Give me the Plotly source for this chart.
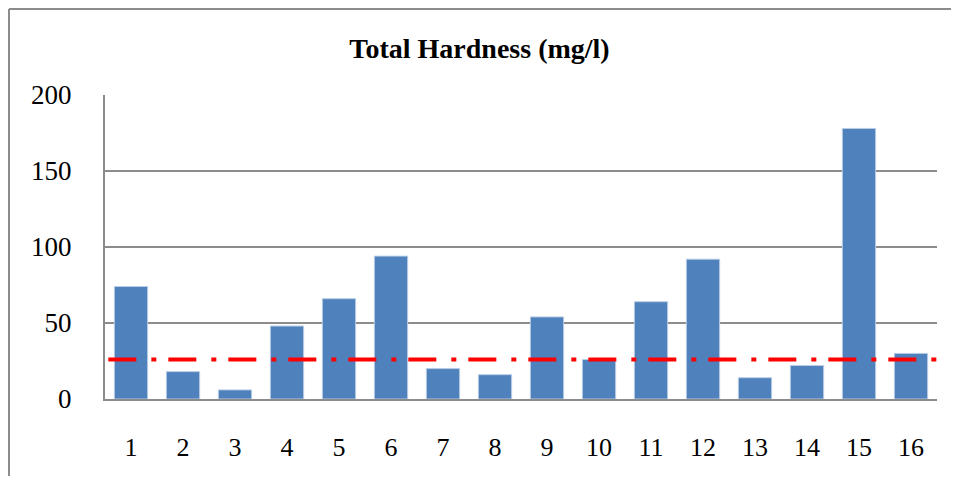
import plotly.graph_objects as go

categories = [str(i) for i in range(1, 17)]
hardness = [74, 18, 6, 48, 66, 94, 20, 16, 54, 26, 64, 92, 14, 22, 178, 30]
limit_value = 26
y_ticks = [0, 50, 100, 150, 200]

FONT = "Liberation Serif, Times New Roman, serif"

# figure is placed 8px in from the window edge by the page body margin
W, H = 943, 468
L, R, T, B = 97, 929, 87, 391  # plot area in figure pixels
PW, PH = R - L, B - T

fig = go.Figure()
fig.add_trace(go.Bar(
    x=categories, y=hardness,
    marker=dict(color="#4F81BD", line=dict(color="#B9CDE5", width=1)),
    hoverinfo="x+y",
))

# limit line (dash-dot red)
fig.add_shape(type="line", xref="paper", yref="y",
              x0=0.004, x1=1.004, y0=limit_value, y1=limit_value,
              line=dict(color="#FF0000", width=4, dash="28px,15px,5px,12px"))

# outer chart border (top and left edges visible in the crop)
border = dict(color="#8C8C8C", width=2)
fig.add_shape(type="line", xref="paper", yref="paper",
              x0=(1 - L) / PW, x1=(W - L) / PW,
              y0=(B - 1) / PH, y1=(B - 1) / PH, line=border, layer="below")
fig.add_shape(type="line", xref="paper", yref="paper",
              x0=(1 - L) / PW, x1=(1 - L) / PW,
              y0=(B - H) / PH, y1=(B - 1) / PH, line=border, layer="below")

fig.update_layout(
    width=W, height=H,
    margin=dict(l=L, r=W - R, t=T, b=H - B),
    paper_bgcolor="white", plot_bgcolor="white",
    bargap=0.36,
    showlegend=False,
    font=dict(family=FONT, color="black", size=26),
    title=dict(text="<b>Total Hardness (mg/l)</b>", x=0.5, xanchor="center",
               y=1 - 40 / H, yanchor="middle",
               font=dict(family=FONT, size=28, color="black")),
    xaxis=dict(showline=True, linecolor="#8C8C8C", linewidth=2,
               ticks="", tickfont=dict(size=26), ticklabelstandoff=24),
    yaxis=dict(range=[0, 200], tickvals=y_ticks, showgrid=True, gridcolor="#8C8C8C",
               gridwidth=1.5, showline=True, linecolor="#8C8C8C", linewidth=2,
               ticks="", tickfont=dict(size=27), ticklabelstandoff=26,
               zeroline=False),
)

fig.write_html("out.html")
